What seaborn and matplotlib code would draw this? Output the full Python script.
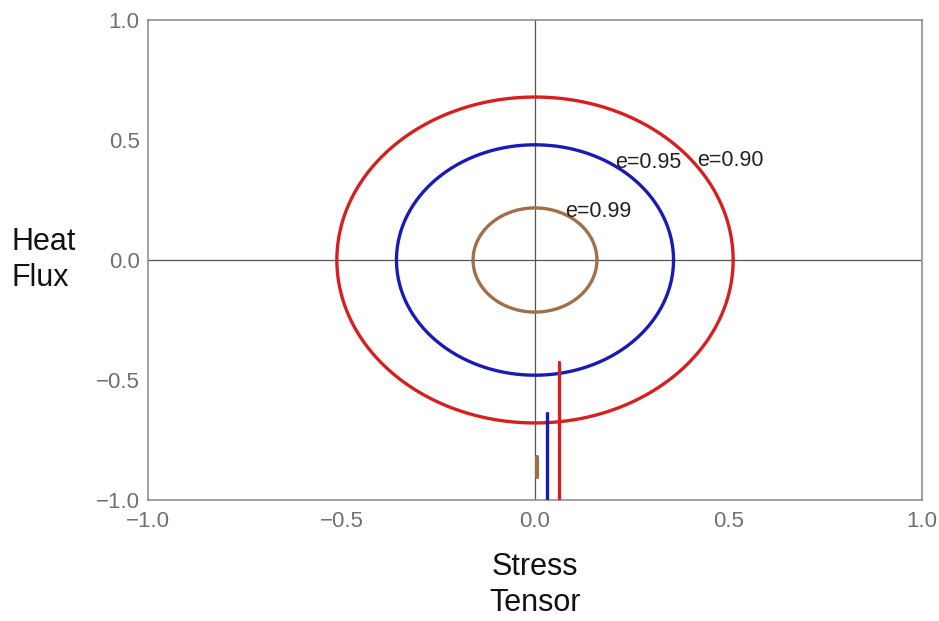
import numpy as np
import pandas as pd
import matplotlib
matplotlib.use("Agg")
import matplotlib.pyplot as plt
import seaborn as sns
from matplotlib.ticker import MultipleLocator

# --- data ---
labels = ["e=0.90", "e=0.95", "e=0.99"]
colors = ["#d62020", "#1a1ab4", "#a0704a"]
semi_x = [0.512, 0.358, 0.160]        # stress-tensor semi-axis
semi_y = [0.679, 0.480, 0.217]        # heat-flux semi-axis
stem_x = [0.062, 0.031, 0.005]        # vertical segments
stem_y0 = [-1.0, -1.0, -0.904]
stem_y1 = [-0.425, -0.638, -0.821]
label_x = [0.418, 0.207, 0.078]
label_y = [0.415, 0.405, 0.203]

sns.set_style("white")
plt.rcParams['font.family'] = ['Liberation Sans', 'DejaVu Sans']

fig = plt.figure(figsize=(9.39, 6.21), dpi=100)
ax = fig.add_axes([148/939, 1-500/621, (922-148)/939, (500-20)/621])

t = np.linspace(0, 2*np.pi, 400)
rows = []
for lab, a, b in zip(labels, semi_x, semi_y):
    for ti in t:
        rows.append({"curve": lab, "x": a*np.cos(ti), "y": b*np.sin(ti), "t": ti})
df = pd.DataFrame(rows)

ax.axhline(0, color="#555555", lw=0.9, zorder=1)
ax.axvline(0, color="#555555", lw=0.9, zorder=1)

sns.lineplot(data=df, x="x", y="y", hue="curve", palette=dict(zip(labels, colors)),
             sort=False, estimator=None, units="curve", lw=2.4, legend=False, ax=ax, zorder=3)

stems = pd.DataFrame({"curve": labels * 2, "x": stem_x * 2, "y": stem_y0 + stem_y1})
for lab, c in zip(labels, colors):
    s = stems[stems.curve == lab]
    sns.lineplot(data=s, x="x", y="y", color=c, lw=2.4 if lab != "e=0.99" else 3,
                 sort=False, estimator=None, ax=ax, zorder=3)

for lab, lx, ly in zip(labels, label_x, label_y):
    ax.text(lx, ly, lab, fontsize=15.5, color="#222222", ha="left", va="center", zorder=4)

ax.set_xlim(-1, 1)
ax.set_ylim(-1, 1)
ax.xaxis.set_major_locator(MultipleLocator(0.5))
ax.yaxis.set_major_locator(MultipleLocator(0.5))
ax.xaxis.set_minor_locator(MultipleLocator(0.1))
ax.yaxis.set_minor_locator(MultipleLocator(0.1))
fmt = matplotlib.ticker.FuncFormatter(lambda v, p: f"{v:.1f}".replace("-", "\u2212"))
ax.xaxis.set_major_formatter(fmt)
ax.yaxis.set_major_formatter(fmt)
ax.tick_params(which="major", direction="in", length=7, width=1, color="#888888",
               labelcolor="#707070", labelsize=16)
ax.tick_params(axis="x", which="major", pad=8)
ax.tick_params(axis="y", which="major", pad=6)
ax.tick_params(which="minor", direction="in", length=3.5, width=0.6, color="#dddddd")
for sp in ax.spines.values():
    sp.set_color("#888888")
    sp.set_linewidth(1.1)

ax.set_xlabel("Stress\nTensor", fontsize=22, color="#111111", labelpad=14, linespacing=1.3)
ax.set_ylabel("Heat\nFlux", fontsize=22, color="#111111", rotation=0, ha="left", va="center",
              linespacing=1.25)
ax.yaxis.set_label_coords(-(148 - 11)/774, 0.5)

fig.savefig("out.png", dpi=100)
